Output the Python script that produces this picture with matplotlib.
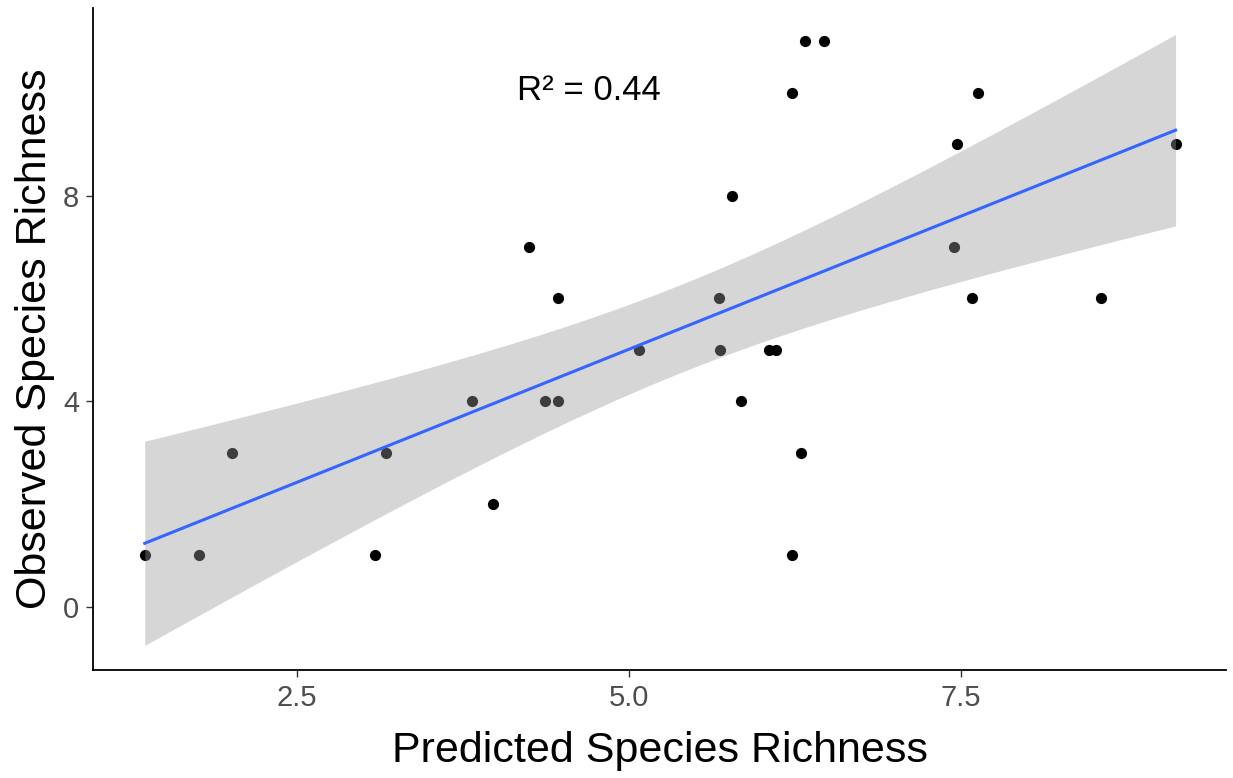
"""
observed vs predicted species richness, with lm fit and 95% band
"""

import matplotlib.pyplot as plt
import numpy as np

predicted = [1.355, 1.76, 2.01, 3.09, 3.17, 3.82, 3.98, 4.25, 4.37, 4.47,
             4.47, 5.08, 5.68, 5.69, 5.78, 5.85, 6.055, 6.108, 6.23, 6.23,
             6.30, 6.33, 6.47, 7.45, 7.47, 7.59, 7.63, 8.56, 9.12]
observed = [1, 1, 3, 1, 3, 4, 2, 7, 4, 6,
            4, 5, 6, 5, 8, 4, 5, 5, 10, 1,
            3, 11, 11, 7, 9, 6, 10, 6, 9]
r2_label = "R\u00b2 = 0.44"
xticks = [2.5, 5.0, 7.5]
yticks = [0, 4, 8]


def fit_band(x, y, t=2.0):
    """linear fit and 95% confidence band for the mean"""
    x = np.asarray(x, float)
    y = np.asarray(y, float)
    n = len(x)
    b, a = np.polyfit(x, y, 1)
    resid = y - (a + b * x)
    s = np.sqrt(np.sum(resid**2) / (n - 2))
    xs = np.linspace(x.min(), x.max(), 80)
    ys = a + b * xs
    se = s * np.sqrt(1 / n + (xs - x.mean())**2 / np.sum((x - x.mean())**2))
    return xs, ys, ys - t * se, ys + t * se


def main():
    plt.rcParams['font.family'] = ['Liberation Sans', 'DejaVu Sans']
    fig = plt.figure(figsize=(12.33, 7.78), dpi=100)
    ax = fig.add_axes([93 / 1233, 108 / 778, 1133 / 1233, 662 / 778])

    ax.scatter(predicted, observed, s=65, color="black", zorder=2,
               linewidths=0)
    xs, ys, lo, hi = fit_band(predicted, observed)
    ax.fill_between(xs, lo, hi, color="#999999", alpha=0.4, lw=0, zorder=3)
    ax.plot(xs, ys, color="#3366FF", lw=2.2, zorder=4)

    ax.text(4.7, 10.05, r2_label, fontsize=25, ha="center", va="center")

    ax.set_xlim(0.965, 9.5)
    ax.set_ylim(-1.23, 11.65)
    ax.set_xticks(xticks)
    ax.set_xticklabels(["%.1f" % v for v in xticks])
    ax.set_yticks(yticks)
    ax.tick_params(labelsize=21, labelcolor="#4d4d4d", color="#333333",
                   length=5, width=1)
    ax.tick_params(axis="x", pad=5)
    ax.tick_params(axis="y", pad=5)
    for side in ["top", "right"]:
        ax.spines[side].set_visible(False)
    for side in ["left", "bottom"]:
        ax.spines[side].set_linewidth(1.3)
    ax.set_xlabel("Predicted Species Richness", fontsize=31, labelpad=14)
    ax.set_ylabel("Observed Species Richness", fontsize=31, labelpad=6)

    fig.savefig("out.png", dpi=100)


main()
